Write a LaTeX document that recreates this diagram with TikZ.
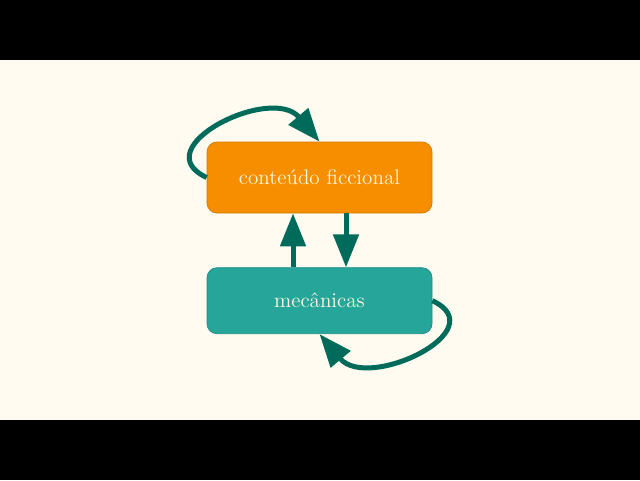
\documentclass[tikz,border=0pt]{standalone}
\usepackage{tikz}
\usetikzlibrary{arrows.meta,positioning}
\definecolor{creambg}{RGB}{255,251,240}
\definecolor{boxorange}{RGB}{247,142,0}
\definecolor{boxteal}{RGB}{38,166,154}
\definecolor{arrowteal}{RGB}{0,107,91}
\definecolor{textcream}{RGB}{255,246,222}

\begin{document}
\begin{tikzpicture}[
        node distance=1.08cm,
        box/.style={rectangle, rounded corners=0.2cm, draw=#1!85!black, fill=#1,
            text=textcream, line width=0.4pt,
            minimum width=4.5cm,
            align=center, font=\large},
        flow/.style={draw=arrowteal, line width=0.1cm,
            -{Triangle[length=0.66cm,width=0.5cm]}}
    ]
        \useasboundingbox (0,0) rectangle (12.8,9.6);
        \fill[black] (0,0) rectangle (12.8,9.6);
        \fill[creambg] (0,1.2) rectangle (12.8,8.4);
        \node[box=boxorange, minimum height=1.42cm] (fic) at (6.39,6.05) {conteúdo ficcional};
        \node[box=boxteal, minimum height=1.32cm, below=of fic] (mec) {mecânicas};
        \draw[flow] ([xshift=-0.53cm]mec.north) -- ([xshift=-0.53cm]fic.south);
        \draw[flow] ([xshift=0.53cm]fic.south) -- ([xshift=0.53cm]mec.north);
        \draw[flow] (fic.west) to[out=155, in=130, out distance=1.4cm, in distance=1.5cm] (fic.north);
        \draw[flow] (mec.east) to[out=-25, in=-50, out distance=1.4cm, in distance=1.5cm] (mec.south);
    \end{tikzpicture}
\end{document}
